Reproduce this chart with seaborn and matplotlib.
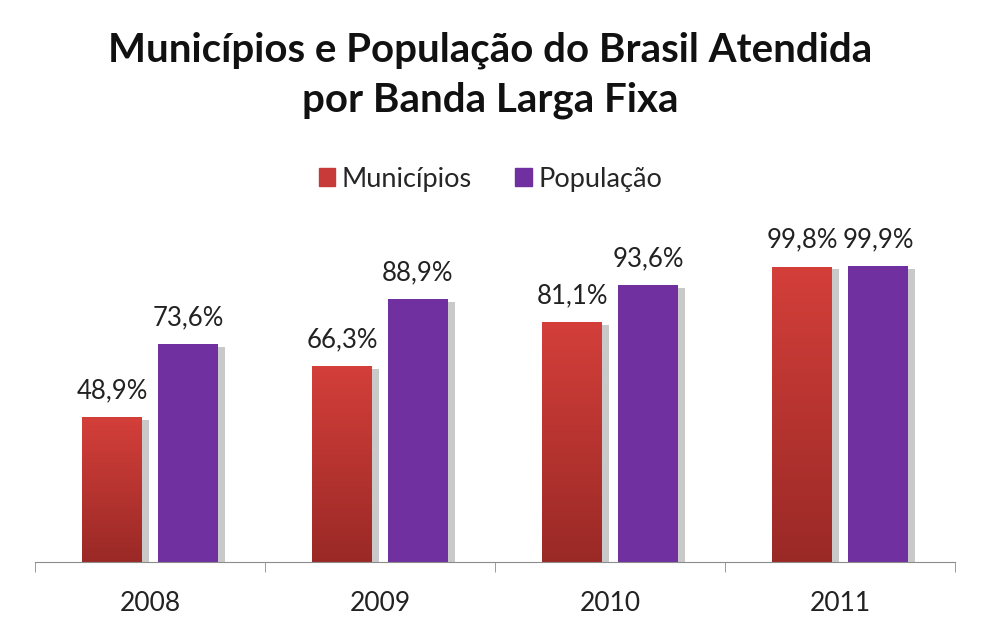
import numpy as np
import pandas as pd
import seaborn as sns
import matplotlib.pyplot as plt
import matplotlib.patheffects as pe
from matplotlib.colors import LinearSegmentedColormap

anos = ["2008", "2009", "2010", "2011"]
municipios = [48.9, 66.3, 81.1, 99.8]
populacao = [73.6, 88.9, 93.6, 99.9]
series = ["Municípios", "População"]

df = pd.DataFrame({
    "ano": anos * 2,
    "serie": [series[0]] * 4 + [series[1]] * 4,
    "valor": municipios + populacao,
})

sns.set_style("white")
plt.rcParams["font.family"] = ["Lato", "DejaVu Sans"]

fig = plt.figure(figsize=(9.81, 6.26), dpi=100)
ax = fig.add_axes([35 / 981, 64 / 626, 920 / 981, 0.55])

red = "#C8393A"
purple = "#7030A0"
sns.barplot(data=df, x="ano", y="valor", hue="serie", palette=[red, purple],
            width=0.66, gap=0.21, ax=ax, legend=False, saturation=1)

ax.set_xlim(-0.5, 3.5)
ax.set_ylim(0, 100 * (0.55 * 626) / 296)

shadow = [pe.SimplePatchShadow(offset=(5, -2), shadow_rgbFace="#888888", alpha=0.45), pe.Normal()]
grad = LinearSegmentedColormap.from_list("g", ["#9A2926", "#D43F3A"])
for i, bar in enumerate(ax.patches):
    bar.set_path_effects(shadow)
    bar.set_edgecolor("none")
    if i < len(anos):
        x0, w, h = bar.get_x(), bar.get_width(), bar.get_height()
        img = ax.imshow(np.linspace(0, 1, 256).reshape(-1, 1), cmap=grad,
                        extent=[x0, x0 + w, 0, h], origin="lower",
                        aspect="auto", zorder=bar.get_zorder() + 0.1)
        img.set_clip_path(bar)

for cont, vals in zip(ax.containers, [municipios, populacao]):
    ax.bar_label(cont, labels=[f"{v:.1f}".replace(".", ",") + "%" for v in vals],
                 padding=10, fontsize=18.5, color="#222222")

ax.set_aspect("auto")
for s in ["top", "right", "left"]:
    ax.spines[s].set_visible(False)
ax.spines["bottom"].set_color("#8C8C8C")
ax.set_yticks([])
ax.set_xlabel("")
ax.set_ylabel("")
ax.set_xticks(range(4))
ax.set_xticklabels(anos, fontsize=19, color="#222222")
ax.set_xticks([-0.5, 0.5, 1.5, 2.5, 3.5], minor=True)
ax.tick_params(axis="x", which="major", length=0, pad=21)
ax.tick_params(axis="x", which="minor", length=7, color="#8C8C8C", direction="out", bottom=True)

fig.text(0.5, 0.88, "Municípios e População do Brasil Atendida\npor Banda Larga Fixa",
         ha="center", va="center", fontsize=29, fontweight="bold",
         linespacing=1.4, color="#111111")

handles = [plt.Rectangle((0, 0), 1, 1, color=red), plt.Rectangle((0, 0), 1, 1, color=purple)]
fig.legend(handles, series, loc="center", bbox_to_anchor=(0.5, 0.714), ncol=2,
           frameon=False, fontsize=19.5, handlelength=0.6, handleheight=0.6,
           handletextpad=0.25, columnspacing=1.6)

fig.savefig("out.png", dpi=100)
